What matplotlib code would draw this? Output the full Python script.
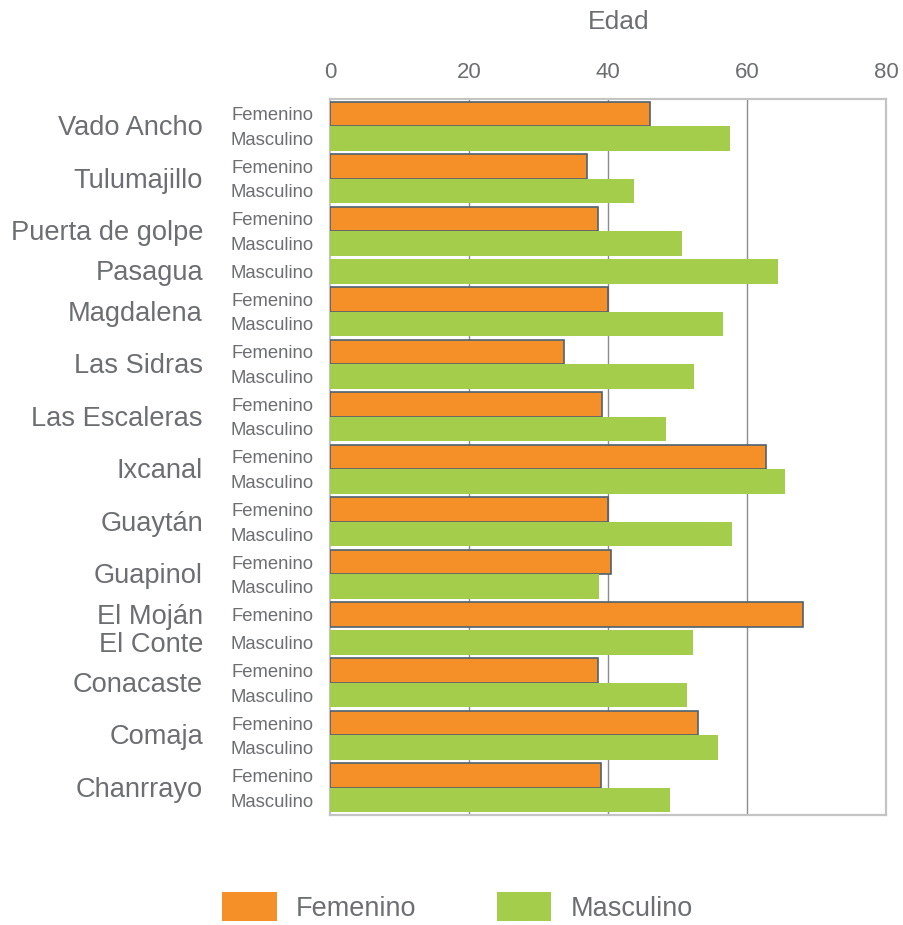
import matplotlib
matplotlib.use("Agg")
import matplotlib.pyplot as plt
from matplotlib.patches import Patch
from matplotlib.transforms import blended_transform_factory

plt.rcParams['font.family'] = ['Liberation Sans', 'DejaVu Sans']

communities = ["Vado Ancho", "Tulumajillo", "Puerta de golpe", "Pasagua", "Magdalena",
               "Las Sidras", "Las Escaleras", "Ixcanal", "Guaytán", "Guapinol",
               "El Moján", "El Conte", "Conacaste", "Comaja", "Chanrrayo"]
femenino = [46.0, 37.0, 38.6, None, 40.0, 33.6, 39.1, 62.8, 40.0, 40.4, 68.0, None, 38.5, 53.0, 39.0]
masculino = [57.6, 43.7, 50.7, 64.4, 56.6, 52.4, 48.4, 65.4, 57.8, 38.7, None, 52.3, 51.4, 55.8, 48.9]
sex_labels = ["Femenino", "Masculino"]
xticks = [0, 20, 40, 60, 80]

C_F = "#F59029"
C_M = "#A3CD4A"
EDGE_F = "#4E6272"
TXT = "#6D6E71"

fig = plt.figure(figsize=(9.04, 9.25), dpi=100)
ax = fig.add_axes([330/904, (925-815)/925, 556/904, 716/925])

gap = 0.143
y = 0.0
bars = []  # (ycenter, value, sex)
groups = []
for name, f, m in zip(communities, femenino, masculino):
    start = y
    for val, sex in ((f, 0), (m, 1)):
        if val is None:
            continue
        bars.append((y + 0.5, val, sex))
        y += 1.0
    groups.append((name, (start + y) / 2))
    y += gap
total = y - gap
margin = 0.11

for yc, val, sex in bars:
    if sex == 0:
        ax.barh(yc, val, height=1.0, color=C_F, edgecolor=EDGE_F, linewidth=1.2, zorder=3)
    else:
        ax.barh(yc, val, height=1.0, color=C_M, linewidth=0, zorder=3)

ax.set_ylim(total + margin, -margin)
ax.set_xlim(0, 80)
ax.set_yticks([])
ax.xaxis.tick_top()
ax.set_xticks(xticks)
ax.set_xticklabels([str(t) for t in xticks], fontsize=16, color=TXT)
ax.tick_params(axis='x', length=0, pad=11.5)
for t in (20, 40, 60):
    ax.axvline(t, color="#8C8C8C", linewidth=1.0, zorder=1)
for s in ax.spines.values():
    s.set_color("#C4C4C4")
    s.set_linewidth(1.6)

fig.text(619/904, 1 - 22/925, "Edad", fontsize=19, color=TXT, ha='center', va='center')

trans = blended_transform_factory(ax.transAxes, ax.transData)
for yc, val, sex in bars:
    ax.annotate(sex_labels[sex], xy=(0, yc), xycoords=trans, xytext=(-16, -2),
                textcoords='offset pixels', ha='right', va='center',
                fontsize=13.3, color=TXT)
for name, yc in groups:
    ax.annotate(name, xy=(0, yc), xycoords=trans, xytext=(-127, -2),
                textcoords='offset pixels', ha='right', va='center',
                fontsize=19.6, color=TXT)

handles = [Patch(facecolor=C_F, edgecolor='none'), Patch(facecolor=C_M, edgecolor='none')]
leg = fig.legend(handles, sex_labels, loc='center', bbox_to_anchor=(457.5/904, 18/925),
                 ncol=2, frameon=False, fontsize=19.5, handlelength=2.0, handleheight=1.22,
                 handletextpad=0.7, columnspacing=3.0, borderpad=0)
for t in leg.get_texts():
    t.set_color(TXT)

fig.savefig("out.png", dpi=100)
